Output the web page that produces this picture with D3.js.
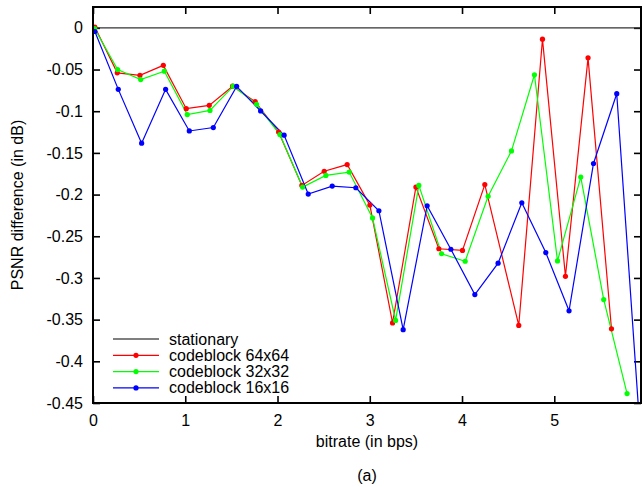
<!DOCTYPE html>
<html>
<head>
<meta charset="utf-8">
<script src="https://cdn.jsdelivr.net/npm/d3@7"></script>
<style>
  body { margin: 0; background: #fff; }
  text { font-family: "Liberation Sans", Arial, sans-serif; }
</style>
</head>
<body>
<div id="chartarea"></div>
<script>
    // PSNR difference vs bitrate, one line per codeblock size

    // stationary reference (flat at zero)
    var stationaryX = [0, 5.94];
    var stationaryY = [0, 0];

    // codeblock 64x64
    var cb64X = [0.02, 0.263, 0.509, 0.762, 1.011, 1.26, 1.513, 1.758, 2.012, 2.264, 2.506, 2.755,
                 3.001, 3.247, 3.50, 3.749, 4.005, 4.247, 4.615, 4.872, 5.121, 5.366, 5.62];
    var cb64Y = [0.001, -0.054, -0.057, -0.045, -0.097, -0.093, -0.070, -0.0885, -0.125, -0.189, -0.172, -0.164,
                 -0.2126, -0.354, -0.191, -0.265, -0.267, -0.188, -0.357, -0.0136, -0.298, -0.036, -0.361];

    // codeblock 32x32
    var cb32X = [0.018, 0.267, 0.517, 0.773, 1.022, 1.268, 1.52, 1.773, 2.026, 2.272, 2.524, 2.777,
                 3.03, 3.28, 3.532, 3.778, 4.034, 4.283, 4.536, 4.785, 5.035, 5.287, 5.536, 5.789];
    var cb32Y = [-0.001, -0.050, -0.062, -0.052, -0.104, -0.099, -0.070, -0.0917, -0.128, -0.191, -0.177, -0.173,
                 -0.228, -0.351, -0.189, -0.271, -0.280, -0.202, -0.1476, -0.0563, -0.2796, -0.179, -0.326, -0.4387];

    // codeblock 16x16
    var cb16X = [0.02, 0.274, 0.527, 0.787, 1.044, 1.304, 1.557, 1.817, 2.072, 2.333, 2.593, 2.849,
                 3.099, 3.362, 3.622, 3.879, 4.139, 4.391, 4.648, 4.908, 5.16, 5.425, 5.677, 5.94];
    var cb16Y = [-0.0044, -0.0738, -0.1384, -0.0738, -0.1237, -0.1196, -0.0702, -0.0997, -0.1288, -0.1994, -0.1898, -0.1918,
                 -0.2194, -0.362, -0.2134, -0.2656, -0.320, -0.2823, -0.2098, -0.2696, -0.3394, -0.1627, -0.079, -0.50];

    var xTicks = [0, 1, 2, 3, 4, 5];
    var yTicks = [0, -0.05, -0.1, -0.15, -0.2, -0.25, -0.3, -0.35, -0.4, -0.45];

    var seriesNames = ["stationary", "codeblock 64x64", "codeblock 32x32", "codeblock 16x16"];
    var seriesColors = ["#000000", "#ff0000", "#00ff00", "#0000ff"];

    // pair up x and y arrays
    function zipXY(xs, ys) { return xs.map(function (x, i) { return {x: x, y: ys[i]}; }); }

    var series = [
        {name: seriesNames[0], color: seriesColors[0], points: zipXY(stationaryX, stationaryY), marks: false},
        {name: seriesNames[1], color: seriesColors[1], points: zipXY(cb64X, cb64Y), marks: true},
        {name: seriesNames[2], color: seriesColors[2], points: zipXY(cb32X, cb32Y), marks: true},
        {name: seriesNames[3], color: seriesColors[3], points: zipXY(cb16X, cb16Y), marks: true}];

    var width = 644, height = 487;
    var margin = {top: 7, right: 3, bottom: 84, left: 93};
    var plotW = width - margin.left - margin.right;
    var plotH = height - margin.top - margin.bottom;

    var svg = d3.select("#chartarea").append("svg")
                .attr("width", width)
                .attr("height", height);

    var g = svg.append("g")
               .attr("transform", "translate(" + margin.left + "," + margin.top + ")");

    var x = d3.scaleLinear().domain([0, 5.94]).range([0, plotW]);
    var y = d3.scaleLinear().domain([-0.45, 0.025]).range([plotH, 0]);

    // clip so the lines stop at the border like gnuplot does
    g.append("clipPath").attr("id", "plotclip")
        .append("rect").attr("width", plotW).attr("height", plotH);

    // plain hyphen minus, like the original
    var yFmt = function (d) { return String(+d.toFixed(2)); };

    // axes, ticks point inward
    var axLeft = g.append("g")
        .call(d3.axisLeft(y).tickValues(yTicks).tickSize(-7).tickPadding(10).tickFormat(yFmt));
    var axRight = g.append("g").attr("transform", "translate(" + plotW + ",0)")
        .call(d3.axisRight(y).tickValues(yTicks).tickSize(-7).tickFormat(""));
    var axBottom = g.append("g").attr("transform", "translate(0," + plotH + ")")
        .call(d3.axisBottom(x).tickValues(xTicks).tickSize(-7).tickPadding(12).tickFormat(d3.format("d")));
    var axTop = g.append("g")
        .call(d3.axisTop(x).tickValues(xTicks).tickSize(-7).tickFormat(""));

    [axLeft, axRight, axBottom, axTop].forEach(function (a) {
        a.select(".domain").remove();
        a.selectAll("line").attr("stroke", "#000").attr("stroke-width", 1.6);
        a.selectAll("text").attr("font-size", "16px").attr("fill", "#000")
         .attr("font-family", "'Liberation Sans', Arial, sans-serif");
    });

    // the lines
    var line = d3.line().x(function (d) { return x(d.x); }).y(function (d) { return y(d.y); });

    var plot = g.append("g").attr("clip-path", "url(#plotclip)");

    plot.selectAll("path.series")
        .data(series)
        .enter()
        .append("path")
        .attr("class", "series")
        .attr("d", function (d) { return line(d.points); })
        .attr("fill", "none")
        .attr("stroke", function (d) { return d.marks ? d.color : "#333"; })
        .attr("stroke-width", function (d) { return d.marks ? 1.2 : 1.4; });

    // dots on each point
    series.filter(function (s) { return s.marks; }).forEach(function (s) {
        plot.selectAll(null)
            .data(s.points)
            .enter()
            .append("circle")
            .attr("cx", function (d) { return x(d.x); })
            .attr("cy", function (d) { return y(d.y); })
            .attr("r", 2.6)
            .attr("fill", s.color);
    });

    // frame
    g.append("rect")
        .attr("width", plotW)
        .attr("height", plotH)
        .attr("fill", "none")
        .attr("stroke", "#000")
        .attr("stroke-width", 2);

    // legend
    var legend = g.append("g").attr("transform", "translate(20," + (plotH - 64) + ")");
    var rows = legend.selectAll("g")
        .data(series)
        .enter()
        .append("g")
        .attr("transform", function (d, i) { return "translate(0," + (i * 16.3) + ")"; });

    rows.append("line")
        .attr("x1", 0).attr("x2", 46)
        .attr("stroke", function (d) { return d.color; })
        .attr("stroke-width", 1.2);
    rows.filter(function (d) { return d.marks; })
        .append("circle")
        .attr("cx", 23).attr("r", 2.6)
        .attr("fill", function (d) { return d.color; });
    rows.append("text")
        .attr("x", 56)
        .attr("y", 5.5)
        .attr("font-size", "16px")
        .text(function (d) { return d.name; });

    // axis titles
    svg.append("text")
        .attr("x", margin.left + plotW / 2)
        .attr("y", 447)
        .attr("text-anchor", "middle")
        .attr("font-size", "16px")
        .text("bitrate (in bps)");

    svg.append("text")
        .attr("transform", "translate(23," + (margin.top + plotH / 2) + ") rotate(-90)")
        .attr("text-anchor", "middle")
        .attr("font-size", "16px")
        .text("PSNR difference (in dB)");

    svg.append("text")
        .attr("x", margin.left + plotW / 2)
        .attr("y", 481)
        .attr("text-anchor", "middle")
        .attr("font-size", "16px")
        .attr("font-family", "'Liberation Serif', 'Times New Roman', serif")
        .text("(a)");
</script>
</body>
</html>
